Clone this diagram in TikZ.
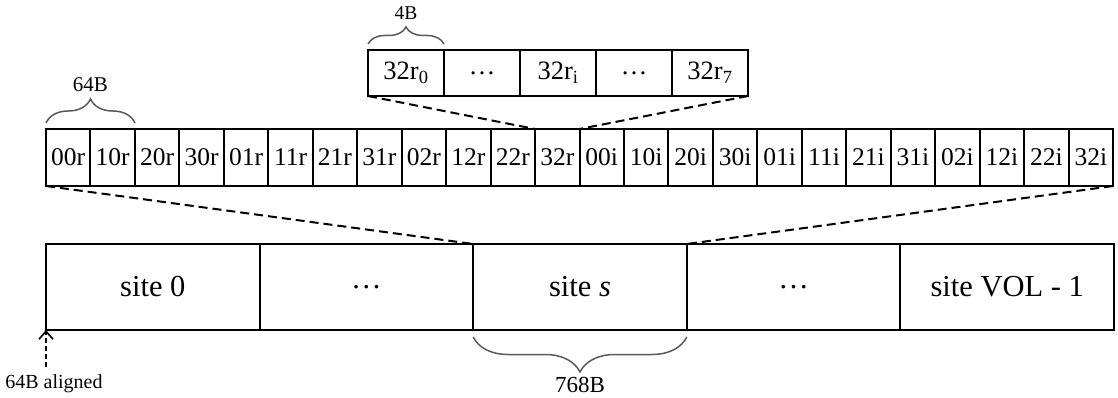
\documentclass[tikz,border=0pt]{standalone}
\usepackage{fontspec}
\setmainfont{Liberation Serif}
\usetikzlibrary{decorations.pathreplacing,arrows.meta}
\begin{document}
\begin{tikzpicture}[x=1pt,y=-1pt,
  cellbase/.style={draw=black,line width=2pt,rectangle,inner sep=0pt,outer sep=0pt,anchor=north west},
  sitecell/.style={cellbase,minimum width=213.6pt,minimum height=86pt,font=\fontsize{30.5}{36}\selectfont},
  midcell/.style={cellbase,minimum width=44.46pt,minimum height=57pt,font=\fontsize{25.5}{30}\selectfont},
  topcell/.style={cellbase,minimum width=76pt,minimum height=46pt,font=\fontsize{26.5}{32}\selectfont},
  zoomline/.style={line width=2pt,dash pattern=on 9pt off 5pt},
  bracestyle/.style={draw=black!65,line width=1.5pt,decorate},
  lbl/.style={inner sep=0pt}]
\useasboundingbox (0,0) rectangle (1118,398);
% bottom row: sites
\node[sitecell] (s1) at (46,244) {site 0};
\node[sitecell] (s2) at (259.6,244) {\ldots};
\node[sitecell] (s3) at (473.2,244) {site \textit{s}};
\node[sitecell] (s4) at (686.8,244) {\ldots};
\node[sitecell] (s5) at (900.4,244) {site VOL - 1};
% middle row
\foreach \t [count=\i] in {00r,10r,20r,30r,01r,11r,21r,31r,02r,12r,22r,32r,00i,10i,20i,30i,01i,11i,21i,31i,02i,12i,22i,32i}{
  \node[midcell] (m\i) at ({46+(\i-1)*44.46},129) {\t};
}
% top row
\node[topcell] (t1) at (368,50) {32r\textsubscript{0}};
\node[topcell] (t2) at (444,50) {\ldots};
\node[topcell] (t3) at (520,50) {32r\textsubscript{i}};
\node[topcell] (t4) at (596,50) {\ldots};
\node[topcell] (t5) at (672,50) {32r\textsubscript{7}};
% zoom connectors
\draw[zoomline] (m1.south west) -- (s3.north west);
\draw[zoomline] (m24.south east) -- (s3.north east);
\draw[zoomline] (t1.south west) -- (m12.north west);
\draw[zoomline] (t5.south east) -- (m12.north east);
% braces
\coordinate (b4a) at (368,44);
\coordinate (b4b) at (444,44);
\draw[bracestyle,decoration={brace,amplitude=17pt,aspect=0.5}] (b4a) -- (b4b);
\node[lbl,font=\fontsize{19.5}{22}\selectfont] (l4) at (406,13) {4B};
\coordinate (b64a) at (46,123);
\coordinate (b64b) at (135,123);
\draw[bracestyle,decoration={brace,amplitude=24pt}] (b64a) -- (b64b);
\node[lbl,font=\fontsize{21}{24}\selectfont] (l64) at (90.5,85) {64B};
\coordinate (b768a) at (473.2,337);
\coordinate (b768b) at (686.8,337);
\draw[bracestyle,decoration={brace,amplitude=35pt,mirror}] (b768a) -- (b768b);
\node[lbl,font=\fontsize{23}{27}\selectfont] (l768) at (580,385) {768B};
% alignment arrow
\coordinate (al) at (46,367);
\draw[line width=1.6pt,dash pattern=on 5pt off 3pt,-{Straight Barb[length=8pt,width=14pt,line width=1.6pt]}] (al) -- (s1.south west);
\node[lbl,font=\fontsize{20}{24}\selectfont] (lal) at (54,384) {64B aligned};
\end{tikzpicture}
\end{document}
